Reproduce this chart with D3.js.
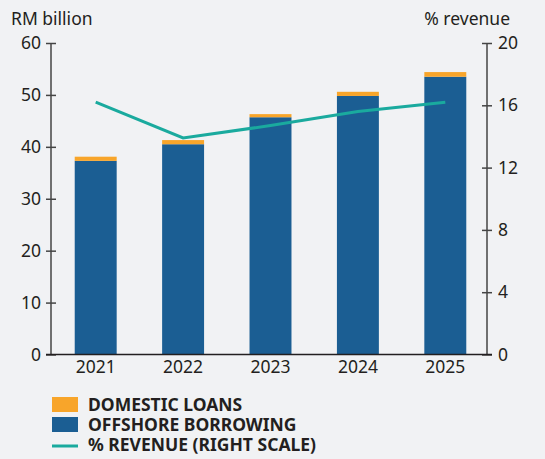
<!DOCTYPE html>
<html>
<head>
<meta charset="utf-8">
<script src="https://cdn.jsdelivr.net/npm/d3@7"></script>
<style>
  body { margin: 0; background: #f1f2f4; }
  text { font-family: "Noto Sans", sans-serif; fill: #231f20; }
</style>
</head>
<body>
<script>
// data
let years = ["2021", "2022", "2023", "2024", "2025"];
let offshore = [37.3, 40.5, 45.7, 49.8, 53.5];
let domestic = [0.8, 0.8, 0.6, 0.8, 0.9];
let pctRevenue = [16.2, 13.9, 14.7, 15.6, 16.2];
let leftTicks = [0, 10, 20, 30, 40, 50, 60];
let rightTicks = [0, 4, 8, 12, 16, 20];

let W = 545, H = 459;
let margin = {top: 43, left: 51, right: 487, bottom: 354.5};

let svg = d3.select("body").append("svg")
  .attr("width", W)
  .attr("height", H);

let x = d3.scaleBand().domain(years).range([52, 489]).paddingInner(0.52).paddingOuter(0.26);
let y = d3.scaleLinear().domain([0, 60]).range([margin.bottom, margin.top]);
let y2 = d3.scaleLinear().domain([0, 20]).range([margin.bottom, margin.top]);

// stacked bars
let rows = years.map(function(d, i) { return {year: d, offshore: offshore[i], domestic: domestic[i]}; });
let stack = d3.stack().keys(["offshore", "domestic"])(rows);
let colors = {offshore: "#1b5e93", domestic: "#f8a52a"};

svg.selectAll("g.layer")
  .data(stack)
  .enter().append("g")
    .attr("fill", function(d) { return colors[d.key]; })
  .selectAll("rect")
  .data(function(d) { return d; })
  .enter().append("rect")
    .attr("x", function(d) { return x(d.data.year); })
    .attr("width", x.bandwidth())
    .attr("y", function(d) { return y(d[1]); })
    .attr("height", function(d) { return y(d[0]) - y(d[1]); });

// axes
let axisColor = "#444";
let left = svg.append("g")
  .attr("transform", "translate(" + margin.left + ",0)")
  .call(d3.axisLeft(y).tickValues(leftTicks).tickSize(5).tickPadding(5));
left.selectAll(".tick line").attr("x2", -5).attr("x1", 5);

let right = svg.append("g")
  .attr("transform", "translate(" + margin.right + ",0)")
  .call(d3.axisRight(y2).tickValues(rightTicks).tickSize(5).tickPadding(6));
right.selectAll(".tick line").attr("x1", -5).attr("x2", 5);

[left, right].forEach(function(a) {
  a.select(".domain").attr("stroke", axisColor).attr("stroke-width", 1.5)
    .attr("d", "M0," + margin.top + "V" + margin.bottom);
  a.selectAll(".tick line").attr("stroke", axisColor).attr("stroke-width", 1.5);
  a.selectAll(".tick text").style("font-size", "17.5px").attr("fill", "#231f20");
});

// baseline
svg.append("line")
  .attr("x1", margin.left - 5).attr("x2", margin.right + 5)
  .attr("y1", y(0)).attr("y2", y(0))
  .attr("stroke", "#231f20").attr("stroke-width", 1.5);

let bottom = svg.append("g")
  .attr("transform", "translate(0," + margin.bottom + ")")
  .call(d3.axisBottom(x).tickSize(0).tickPadding(6));
bottom.select(".domain").remove();
bottom.selectAll(".tick text").style("font-size", "17.5px").attr("fill", "#231f20");

// % revenue line
let line = d3.line()
  .x(function(d, i) { return x(years[i]) + x.bandwidth() / 2; })
  .y(function(d) { return y2(d); });

svg.append("path")
  .datum(pctRevenue)
  .attr("fill", "none")
  .attr("stroke", "#1aaa9e")
  .attr("stroke-width", 3)
  .attr("d", line);

// axis titles
svg.append("text").attr("x", 11).attr("y", 25).style("font-size", "17.5px").text("RM billion");
svg.append("text").attr("x", 510).attr("y", 25).attr("text-anchor", "end").style("font-size", "17.5px").text("% revenue");

// legend
let legend = [
  {label: "DOMESTIC LOANS", color: colors.domestic, type: "rect"},
  {label: "OFFSHORE BORROWING", color: colors.offshore, type: "rect"},
  {label: "% REVENUE (RIGHT SCALE)", color: "#1aaa9e", type: "line"}
];
let lg = svg.selectAll("g.legend")
  .data(legend)
  .enter().append("g")
    .attr("transform", function(d, i) { return "translate(52," + (397 + i * 20) + ")"; });

lg.filter(function(d) { return d.type === "rect"; }).append("rect")
  .attr("width", 26).attr("height", 15)
  .attr("fill", function(d) { return d.color; });
lg.filter(function(d) { return d.type === "line"; }).append("line")
  .attr("x1", 0).attr("x2", 26).attr("y1", 9).attr("y2", 9)
  .attr("stroke", function(d) { return d.color; }).attr("stroke-width", 3);
lg.append("text")
  .attr("x", 36).attr("y", 14)
  .style("font-size", "17.5px").style("font-weight", "bold")
  .text(function(d) { return d.label; });
</script>
</body>
</html>
